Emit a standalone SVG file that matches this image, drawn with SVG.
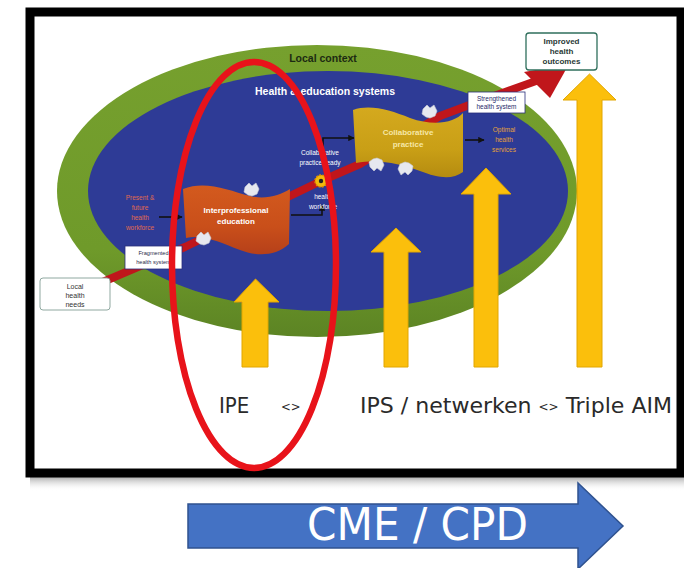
<svg xmlns="http://www.w3.org/2000/svg" width="684" height="568" viewBox="0 0 684 568">
<style>
.sm{font-family:"Liberation Sans",Arial,sans-serif;font-size:6.5px;text-anchor:middle}
.bd{font-family:"Liberation Sans",Arial,sans-serif;font-weight:bold;text-anchor:middle}
.big{font-family:"DejaVu Sans Condensed","DejaVu Sans",sans-serif;font-size:22px;fill:#2a2a2a}
.yarrow{fill:#fbbf0c;stroke:#e2a600;stroke-width:1}
.blob{fill:#e6e8ef;stroke:#c9ccd6;stroke-width:0.6}
.blk{fill:none;stroke:#111;stroke-width:1.6;marker-end:url(#ah)}
</style>
<defs>
<marker id="ah" viewBox="0 0 10 10" refX="9" refY="5" markerWidth="4" markerHeight="4" orient="auto"><path d="M0,0 L10,5 L0,10 Z" fill="#111"/></marker>
<linearGradient id="gshadow" x1="0" y1="0" x2="0" y2="1"><stop offset="0" stop-color="#888" stop-opacity="0.7"/><stop offset="1" stop-color="#fff" stop-opacity="0"/></linearGradient>
<linearGradient id="ggreen" x1="0" y1="0" x2="0" y2="1"><stop offset="0" stop-color="#76a02e"/><stop offset="0.7" stop-color="#6f9a2a"/><stop offset="1" stop-color="#5c8424"/></linearGradient>
<linearGradient id="gorange" x1="0" y1="0" x2="0" y2="1"><stop offset="0" stop-color="#d35a1e"/><stop offset="0.6" stop-color="#c94f1a"/><stop offset="1" stop-color="#b6401a"/></linearGradient>
<linearGradient id="ggold" x1="0" y1="0" x2="0" y2="1"><stop offset="0" stop-color="#d4a91e"/><stop offset="0.6" stop-color="#c99f16"/><stop offset="1" stop-color="#b58c10"/></linearGradient>
<path id="blobshape" d="M-7,-3 L-3,-7 L0,-4 L4,-7 L7,-1 L5,4 L0,6 L-4,5 L-8,2 Z"/>
</defs>

<rect width="684" height="568" fill="#fff"/>

<!-- frame -->
<g id="frame">
<rect x="30" y="477" width="654" height="14" fill="url(#gshadow)"/>
<rect x="30" y="12" width="651" height="461" fill="#fff" stroke="#000" stroke-width="9"/>
</g>

<!-- context ellipses -->
<g id="local-context">
<ellipse cx="317" cy="191" rx="260" ry="146" fill="url(#ggreen)"/>
<text class="bd" x="323" y="62" font-size="10.5" fill="#1c2a12">Local context</text>
</g>
<g id="health-education-systems">
<ellipse cx="328" cy="191" rx="240" ry="120" fill="#2e3b96"/>
<text class="bd" x="325" y="95" font-size="10.5" fill="#fff">Health &amp; education systems</text>
</g>

<!-- connectors -->
<g id="connectors">
<path d="M98,284 L185,247 L290,196 L321,181 L360,164 L440,116 L472,104 L536,81" fill="none" stroke="#c0161b" stroke-width="8" stroke-linejoin="round"/>
<polygon points="569,64 524,72 550,98" fill="#c0161b"/>
<path class="blk" d="M159,217 L182,217"/>
<path class="blk" d="M291,215 L322,215 L322,205"/>
<path class="blk" d="M323,150 L323,138 L354,138"/>
<path class="blk" d="M465,140 L484,140"/>
</g>

<g id="present-future-workforce">
<text class="sm" fill="#e06a4e"><tspan x="140" y="200">Present &amp;</tspan><tspan x="140" y="210">future</tspan><tspan x="140" y="220">health</tspan><tspan x="140" y="230">workforce</tspan></text>
</g>

<g id="interprofessional-education">
<path d="M183,189 C205,180 228,190 250,196 C266,200 280,195 290,189 L289,244 C275,257 255,256 240,250 C220,242 202,234 186,238 Z" fill="url(#gorange)"/>
<text class="bd" font-size="8" fill="#fff"><tspan x="236" y="213">Interprofessional</tspan><tspan x="236" y="224">education</tspan></text>
<use href="#blobshape" class="blob" transform="translate(252,190)"/>
<use href="#blobshape" class="blob" transform="translate(204,239)"/>
</g>

<g id="practice-ready">
<text class="sm" fill="#fff"><tspan x="320" y="155">Collaborative</tspan><tspan x="320" y="165">practice-ready</tspan></text>
</g>

<g id="health-workforce">
<circle cx="321" cy="181" r="6" fill="#f2b90c" stroke="#e09000" stroke-width="1.5" stroke-dasharray="2 1.2"/>
<circle cx="321" cy="181" r="2.2" fill="#222"/>
<text class="sm" fill="#fff"><tspan x="323" y="199">health</tspan><tspan x="323" y="209">workforce</tspan></text>
</g>

<g id="collaborative-practice">
<path d="M353,110 C370,104 390,110 410,118 C435,127 455,122 463,113 L463,172 C452,180 438,178 420,171 C400,164 380,159 356,163 Z" fill="url(#ggold)"/>
<text class="bd" font-size="8" fill="#f6e7a6"><tspan x="408" y="135">Collaborative</tspan><tspan x="408" y="147">practice</tspan></text>
<use href="#blobshape" class="blob" transform="translate(430,112)"/>
<use href="#blobshape" class="blob" transform="translate(377,164) scale(1,-1)"/>
<use href="#blobshape" class="blob" transform="translate(405,168) scale(-1,-1)"/>
</g>

<g id="optimal-health-services">
<text class="sm" fill="#e3a23a"><tspan x="504" y="132">Optimal</tspan><tspan x="504" y="142">health</tspan><tspan x="504" y="152">services</tspan></text>
</g>

<g id="strengthened-health-system">
<rect x="468" y="92" width="57" height="21" fill="#fff" stroke="#2a2f7a" stroke-width="0.8"/>
<text class="sm" font-size="6" fill="#1f2a6a"><tspan x="496.5" y="100.5">Strengthened</tspan><tspan x="496.5" y="109">health system</tspan></text>
</g>

<g id="fragmented-health-system">
<rect x="125" y="246" width="57" height="23" fill="#fff" stroke="#2a2f7a" stroke-width="0.8"/>
<text class="sm" style="font-size:5.6px" fill="#2a2a4a"><tspan x="153.5" y="255">Fragmented</tspan><tspan x="153.5" y="264">health system</tspan></text>
</g>

<g id="local-health-needs">
<rect x="40" y="278" width="70" height="32" rx="3" fill="#fff" stroke="#8fa8a0" stroke-width="1"/>
<text class="sm" style="font-size:7px" fill="#333"><tspan x="75" y="289">Local</tspan><tspan x="75" y="298">health</tspan><tspan x="75" y="307">needs</tspan></text>
</g>

<g id="improved-health-outcomes">
<rect x="526" y="33" width="71" height="37" rx="3" fill="#fff" stroke="#2f6f5c" stroke-width="1.3"/>
<text class="bd" font-size="8" fill="#2a3a36"><tspan x="561.5" y="44">Improved</tspan><tspan x="561.5" y="54">health</tspan><tspan x="561.5" y="64">outcomes</tspan></text>
</g>

<!-- yellow arrows -->
<g id="arrow-ipe"><polygon class="yarrow" points="242,367 242,302 234,302 255.5,279 279,302 268,302 268,367"/></g>
<g id="arrow-2"><polygon class="yarrow" points="384,367 384,252 371,252 396,228 421,252 408,252 408,367"/></g>
<g id="arrow-3"><polygon class="yarrow" points="474,367 474,194 461,194 486,168 511,194 498,194 498,367"/></g>
<g id="arrow-4"><polygon class="yarrow" points="577,367 577,100 563,100 589.5,74 616,100 602,100 602,367"/></g>

<!-- bottom labels -->
<g id="labels">
<text class="big" x="219" y="413">IPE</text>
<text class="big" x="281" y="411" style="font-size:13px">&lt;&gt;</text>
<text class="big" x="360" y="413" textLength="312" lengthAdjust="spacingAndGlyphs">IPS / netwerken <tspan style="font-size:12px" dy="-2">&lt;&gt;</tspan><tspan dy="2"> Triple AIM</tspan></text>
</g>

<!-- red highlight ellipse -->
<g id="ipe-highlight">
<ellipse cx="254" cy="265" rx="82" ry="203" fill="none" stroke="#e8131a" stroke-width="6.5"/>
</g>

<!-- CME / CPD arrow -->
<g id="cme-cpd">
<polygon points="188,504 578,504 578,483 623,526 578,569 578,548 188,548" fill="#4472c4" stroke="#2f528f" stroke-width="1.5"/>
<text x="307" y="540" font-family="DejaVu Sans Condensed,DejaVu Sans,sans-serif" font-size="45" fill="#fff" textLength="221" lengthAdjust="spacingAndGlyphs">CME / CPD</text>
</g>
</svg>
